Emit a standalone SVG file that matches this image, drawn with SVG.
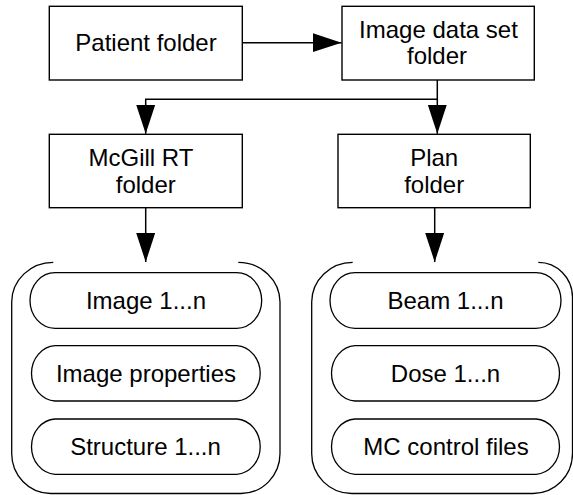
<svg xmlns="http://www.w3.org/2000/svg" width="573" height="495" viewBox="0 0 573 495">
  <defs>
    <marker id="arrow" markerUnits="userSpaceOnUse" markerWidth="30" markerHeight="20" refX="29" refY="9.5" orient="auto">
      <path d="M0,0 L29,9.5 L0,19 z" fill="#000"/>
    </marker>
  </defs>
  <style>
    .box { fill: #fff; stroke: #000; stroke-width: 1.4; }
    .pill { fill: #fff; stroke: #000; stroke-width: 1.3; }
    .frame { fill: none; stroke: #000; stroke-width: 1.3; }
    .conn { fill: none; stroke: #000; stroke-width: 1.5; }
    text { font-family: "Liberation Sans", Arial, sans-serif; font-size: 24px; fill: #000; text-anchor: middle; }
  </style>

  <rect width="573" height="495" fill="#fff"/>

  <!-- connectors -->
  <g id="connectors">
    <path class="conn" d="M242.3,42.7 H341.5" marker-end="url(#arrow)"/>
    <path class="conn" d="M437.3,80 V99.3 H145.7 V133.8" marker-end="url(#arrow)"/>
    <path class="conn" d="M437.3,99.3 V133.8" marker-end="url(#arrow)"/>
    <path class="conn" d="M145.7,207.7 V262" marker-end="url(#arrow)"/>
    <path class="conn" d="M434.7,207.7 V262" marker-end="url(#arrow)"/>
  </g>

  <!-- folder boxes -->
  <g id="patient-folder">
    <rect class="box" x="49.3" y="6.3" width="193" height="73.7"/>
    <text x="146" y="51">Patient folder</text>
  </g>
  <g id="image-data-set-folder">
    <rect class="box" x="342" y="6.3" width="192.3" height="73.7"/>
    <text x="438.5" y="38">Image data set</text>
    <text x="437" y="64">folder</text>
  </g>
  <g id="mcgill-rt-folder">
    <rect class="box" x="49.3" y="134.3" width="193" height="73.4"/>
    <text x="141" y="165.7">McGill RT</text>
    <text x="145.8" y="192.5">folder</text>
  </g>
  <g id="plan-folder">
    <rect class="box" x="338" y="134.3" width="192.3" height="73.4"/>
    <text x="434.2" y="165.7">Plan</text>
    <text x="434.2" y="192.5">folder</text>
  </g>

  <!-- McGill RT folder contents -->
  <g id="mcgill-contents">
    <path class="frame" d="M53.3,262.3 A41.5,40 0 0 0 11.7,302 V453 A39,40 0 0 0 50.5,493.5 H241 A39,40 0 0 0 280,453 V302 A41.7,40 0 0 0 238.3,262.3"/>
    <g id="image-1-n">
      <path class="pill" d="M55,272.7 H236.7 A25,27.8 0 0 1 236.7,328.3 H55 A25,27.8 0 0 1 55,272.7 z"/>
      <text x="146" y="309">Image 1...n</text>
    </g>
    <g id="image-properties">
      <path class="pill" d="M55,345.7 H236.7 A25,27.7 0 0 1 236.7,401 H55 A25,27.7 0 0 1 55,345.7 z"/>
      <text x="146" y="382">Image properties</text>
    </g>
    <g id="structure-1-n">
      <path class="pill" d="M55,419 H236.7 A25,27.7 0 0 1 236.7,474.3 H55 A25,27.7 0 0 1 55,419 z"/>
      <text x="145.5" y="454.5">Structure 1...n</text>
    </g>
  </g>

  <!-- Plan folder contents -->
  <g id="plan-contents">
    <path class="frame" d="M352.7,262.3 A41,40 0 0 0 311.7,302 V453 A40,40 0 0 0 351.7,493.5 H533 A39.5,40 0 0 0 572.5,453.5 V297 A34.2,35 0 0 0 538.3,262.3"/>
    <g id="beam-1-n">
      <path class="pill" d="M355,272.7 H536 A25,27.8 0 0 1 536,328.3 H355 A25,27.8 0 0 1 355,272.7 z"/>
      <text x="445.5" y="309">Beam 1...n</text>
    </g>
    <g id="dose-1-n">
      <path class="pill" d="M355,345.7 H536 A25,27.7 0 0 1 536,401 H355 A25,27.7 0 0 1 355,345.7 z"/>
      <text x="445.5" y="382">Dose 1...n</text>
    </g>
    <g id="mc-control-files">
      <path class="pill" d="M355,419 H536 A25,27.7 0 0 1 536,474.3 H355 A25,27.7 0 0 1 355,419 z"/>
      <text x="446" y="454.5">MC control files</text>
    </g>
  </g>
</svg>
